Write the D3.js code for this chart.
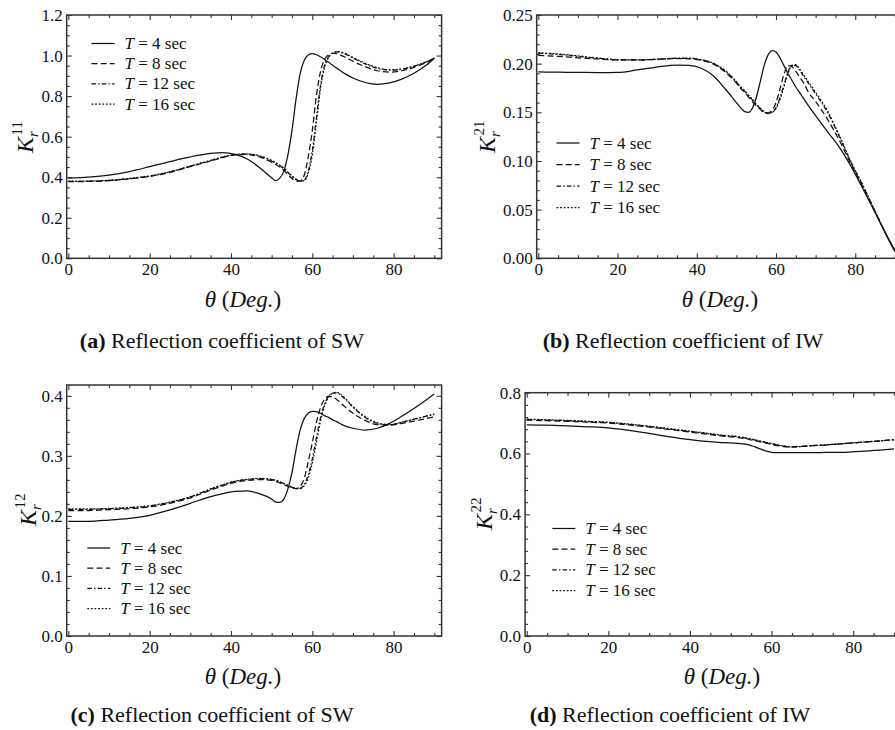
<!DOCTYPE html>
<html><head><meta charset="utf-8">
<script src="https://cdn.jsdelivr.net/npm/d3@7"></script>
<style>
body{margin:0;background:#fff}
svg{display:block;font-family:"Liberation Serif","Times New Roman",serif}
</style></head><body>
<svg id="chart" width="895" height="730"></svg>
<script>
// Incidence angle (degrees) at which each reflection coefficient is sampled
const theta = [0,5,10,15,20,25,30,35,38,41,44,47,50,51,52,53,54,55,56,57,58,59,60,61,62,63,64,65,66,67,68,70,73,76,79,82,85,88,90];

// Wave periods (sec) and their legend labels
const periods = [4, 8, 12, 16];

// K_r^11 : surface wave reflected as surface wave
const a_T4  = [.395,.400,.410,.428,.452,.477,.500,.517,.521,.513,.490,.448,.397,.383,.395,.430,.510,.630,.785,.910,.975,1.003,1.009,1.004,.994,.981,.967,.952,.938,.924,.911,.889,.867,.858,.865,.884,.913,.952,.987];
const a_T8  = [.378,.379,.383,.392,.404,.424,.452,.480,.497,.510,.512,.500,.474,.463,.450,.434,.414,.394,.381,.381,.410,.500,.630,.800,.920,.980,1.003,1.012,1.010,1.002,.993,.972,.945,.925,.918,.925,.942,.965,.985];
const a_T12 = [.379,.380,.384,.393,.405,.426,.454,.482,.499,.511,.514,.504,.480,.469,.456,.441,.423,.404,.389,.380,.385,.430,.530,.690,.850,.950,.993,1.012,1.018,1.015,1.008,.988,.959,.937,.928,.932,.947,.968,.987];
const a_T16 = [.380,.381,.385,.394,.406,.427,.455,.483,.500,.512,.515,.506,.483,.472,.459,.444,.426,.407,.391,.381,.383,.420,.510,.670,.835,.940,.990,1.011,1.020,1.018,1.011,.991,.962,.940,.930,.934,.948,.969,.988];

// K_r^21 : surface wave reflected as internal wave
const b_T4  = [.1915,.1912,.1910,.1908,.1910,.1935,.1965,.1985,.1982,.1955,.1880,.1750,.1600,.1550,.1510,.1500,.1540,.1650,.1810,.1980,.2090,.2135,.2120,.2060,.1980,.1900,.1830,.1760,.1700,.1640,.1580,.1465,.1300,.1140,.0940,.0710,.0470,.0225,.0070];
const b_T8  = [.2085,.2075,.2060,.2048,.2038,.2038,.2045,.2052,.2050,.2035,.2000,.1920,.1800,.1750,.1710,.1660,.1610,.1570,.1530,.1500,.1495,.1520,.1600,.1740,.1890,.1980,.1970,.1920,.1860,.1800,.1720,.1610,.1430,.1210,.0960,.0730,.0480,.0230,.0080];
const b_T12 = [.2108,.2095,.2075,.2055,.2040,.2038,.2045,.2055,.2055,.2040,.2005,.1930,.1810,.1760,.1720,.1675,.1630,.1580,.1540,.1505,.1487,.1500,.1550,.1650,.1780,.1910,.1985,.1980,.1930,.1870,.1810,.1690,.1500,.1250,.0980,.0740,.0480,.0230,.0080];
const b_T16 = [.2112,.2100,.2080,.2058,.2042,.2039,.2046,.2056,.2056,.2042,.2008,.1935,.1815,.1765,.1725,.1680,.1635,.1585,.1545,.1510,.1490,.1498,.1540,.1630,.1760,.1895,.1980,.1990,.1945,.1885,.1825,.1705,.1515,.1260,.0985,.0745,.0485,.0232,.0082];

// K_r^12 : internal wave reflected as surface wave
const c_T4  = [.191,.191,.193,.196,.201,.210,.221,.232,.237,.241,.2415,.237,.228,.2235,.2225,.228,.245,.272,.310,.343,.362,.371,.374,.3735,.371,.367,.364,.360,.357,.353,.350,.346,.343,.346,.354,.366,.379,.393,.403];
const c_T8  = [.209,.209,.2105,.212,.215,.221,.230,.243,.250,.256,.259,.2605,.259,.2575,.255,.252,.249,.2465,.2455,.249,.262,.290,.322,.355,.380,.394,.399,.398,.394,.388,.382,.371,.359,.352,.351,.354,.358,.362,.365];
const c_T12 = [.211,.211,.212,.2135,.2165,.2225,.2315,.2445,.2515,.2575,.2605,.262,.2605,.259,.2565,.2535,.2505,.2475,.2455,.246,.252,.268,.295,.330,.363,.386,.399,.4045,.405,.401,.395,.381,.364,.354,.352,.356,.361,.366,.369];
const c_T16 = [.2115,.2115,.2125,.214,.217,.223,.232,.245,.252,.258,.261,.2625,.261,.2595,.257,.254,.251,.248,.246,.2455,.250,.263,.288,.322,.357,.383,.398,.4045,.406,.4025,.3965,.382,.365,.355,.352,.356,.361,.366,.370];

// K_r^22 : internal wave reflected as internal wave
const d_T4  = [.694,.693,.691,.688,.684,.676,.666,.655,.649,.644,.640,.637,.635,.634,.633,.632,.630,.626,.622,.616,.611,.607,.604,.603,.603,.603,.603,.603,.603,.603,.603,.603,.6035,.604,.605,.607,.610,.613,.615];
const d_T8  = [.710,.708,.706,.703,.700,.694,.687,.679,.674,.669,.664,.659,.655,.654,.652,.650,.648,.645,.642,.639,.636,.633,.630,.627,.625,.623,.622,.622,.623,.6235,.624,.626,.628,.631,.634,.637,.640,.643,.645];
const d_T12 = [.712,.710,.708,.705,.702,.696,.689,.681,.676,.671,.666,.661,.657,.656,.654,.652,.650,.647,.644,.641,.638,.635,.632,.629,.626,.624,.622,.621,.622,.623,.6235,.6255,.628,.631,.634,.637,.640,.643,.646];
const d_T16 = [.713,.711,.709,.706,.703,.697,.690,.682,.677,.672,.667,.662,.658,.657,.655,.653,.651,.648,.645,.642,.639,.636,.633,.630,.627,.625,.623,.622,.622,.623,.624,.626,.628,.631,.634,.637,.640,.643,.646];

// Axis ticks
const xTicks  = [0, 20, 40, 60, 80];
const yTicksA = [0, 0.2, 0.4, 0.6, 0.8, 1.0, 1.2];
const yTicksB = [0, 0.05, 0.10, 0.15, 0.20, 0.25];
const yTicksC = [0, 0.1, 0.2, 0.3, 0.4];
const yTicksD = [0, 0.2, 0.4, 0.6, 0.8];

// Line style for each period: solid, dashed, dot-dashed, dotted
const dashes = [null, "6,3.2", "4.5,2.2,1.4,2.2", "1.8,1.8"];

const panels = [
  {tag:"a", sup:"11", series:[a_T4,a_T8,a_T12,a_T16], yDom:[0,1.2],   yTicks:yTicksA, yMinor:0.05, fmt:".1f",
   cap:"Reflection coefficient of SW", xr:[66.7,441.6], yr:[258.3,15],
   leg:[91.5,43.5,20.2], ylab:[33,137], xlab:[243,307], capPos:[222,348]},
  {tag:"b", sup:"21", series:[b_T4,b_T8,b_T12,b_T16], yDom:[0,0.25],  yTicks:yTicksB, yMinor:0.01, fmt:".2f",
   cap:"Reflection coefficient of IW", xr:[536.7,902], yr:[258.3,15],
   leg:[556.5,143,21.5], ylab:[495,137], xlab:[720,307], capPos:[683,348]},
  {tag:"c", sup:"12", series:[c_T4,c_T8,c_T12,c_T16], yDom:[0,0.418], yTicks:yTicksC, yMinor:0.02, fmt:".1f",
   cap:"Reflection coefficient of SW", xr:[66.7,441.6], yr:[636,385],
   leg:[87.3,548,20.2], ylab:[36,510], xlab:[243,684], capPos:[212,722]},
  {tag:"d", sup:"22", series:[d_T4,d_T8,d_T12,d_T16], yDom:[0,0.8],   yTicks:yTicksD, yMinor:0.04, fmt:".1f",
   cap:"Reflection coefficient of IW", xr:[525.1,901.3], yr:[636,392.7],
   leg:[552.3,528.5,20.7], ylab:[492,514], xlab:[722,684], capPos:[670,722]}
];

const svg = d3.select("#chart");
const ink = "#111";
const frameInk = "#333";

panels.forEach(p => {
  const x = d3.scaleLinear().domain([-0.4, 91.8]).range(p.xr);
  const y = d3.scaleLinear().domain(p.yDom).range(p.yr);
  const g = svg.append("g");
  const [x0, x1] = p.xr, [yb, yt] = p.yr;

  const xMinor = d3.range(0, 91, 5).filter(v => v % 20 !== 0);
  const yMinorVals = d3.range(0, p.yDom[1] + 1e-9, p.yMinor)
    .filter(v => !p.yTicks.some(t => Math.abs(t - v) < 1e-6));

  const styleAxis = sel => {
    sel.select(".domain").remove();
    sel.selectAll(".tick line").attr("stroke", frameInk).attr("stroke-width", 1.1);
    sel.selectAll(".tick text").attr("fill", ink)
      .style("font-family", '"Liberation Serif", serif').style("font-size", "17px");
  };

  // bottom axis (labelled) and top axis, ticks pointing inward
  g.append("g").attr("transform", `translate(0,${yb})`)
    .call(d3.axisBottom(x).tickValues(xTicks).tickSize(-5).tickPadding(5).tickFormat(d3.format("d")))
    .call(styleAxis);
  g.append("g").attr("transform", `translate(0,${yb})`)
    .call(d3.axisBottom(x).tickValues(xMinor).tickSize(-3).tickFormat(""))
    .call(styleAxis);
  g.append("g").attr("transform", `translate(0,${yt})`)
    .call(d3.axisTop(x).tickValues(xTicks).tickSize(-5).tickFormat(""))
    .call(styleAxis);
  g.append("g").attr("transform", `translate(0,${yt})`)
    .call(d3.axisTop(x).tickValues(xMinor).tickSize(-3).tickFormat(""))
    .call(styleAxis);

  // left axis (labelled) and right axis
  g.append("g").attr("transform", `translate(${x0},0)`)
    .call(d3.axisLeft(y).tickValues(p.yTicks).tickSize(-5).tickPadding(4).tickFormat(d3.format(p.fmt)))
    .call(styleAxis);
  g.append("g").attr("transform", `translate(${x0},0)`)
    .call(d3.axisLeft(y).tickValues(yMinorVals).tickSize(-3).tickFormat(""))
    .call(styleAxis);
  g.append("g").attr("transform", `translate(${x1},0)`)
    .call(d3.axisRight(y).tickValues(p.yTicks).tickSize(-5).tickFormat(""))
    .call(styleAxis);
  g.append("g").attr("transform", `translate(${x1},0)`)
    .call(d3.axisRight(y).tickValues(yMinorVals).tickSize(-3).tickFormat(""))
    .call(styleAxis);

  // frame
  g.append("rect").attr("x", x0).attr("y", yt).attr("width", x1 - x0).attr("height", yb - yt)
    .attr("fill", "none").attr("stroke", frameInk).attr("stroke-width", 1.5);

  // curves
  const line = d3.line().x((d, i) => x(theta[i])).y(d => y(d)).curve(d3.curveMonotoneX);
  p.series.forEach((s, k) => {
    g.append("path").datum(s).attr("d", line)
      .attr("fill", "none").attr("stroke", ink).attr("stroke-width", 1.25)
      .attr("stroke-dasharray", dashes[k]);
  });

  // legend
  const [lx, ly, ldy] = p.leg;
  periods.forEach((T, k) => {
    const yy = ly + k * ldy;
    g.append("line").attr("x1", lx).attr("x2", lx + 23).attr("y1", yy).attr("y2", yy)
      .attr("stroke", ink).attr("stroke-width", 1.25).attr("stroke-dasharray", dashes[k]);
    const t = g.append("text").attr("x", lx + 33).attr("y", yy + 5.5)
      .attr("fill", ink).style("font-size", "17px");
    t.append("tspan").attr("font-style", "italic").text("T");
    t.append("tspan").text(` = ${T} sec`);
  });

  // y-axis title K_r^{ij}
  const yl = g.append("g").attr("transform", `translate(${p.ylab[0]},${p.ylab[1]}) rotate(-90)`);
  yl.append("text").attr("x", -16).attr("y", 0).attr("fill", ink)
    .style("font-size", "24px").style("font-style", "italic").text("K");
  yl.append("text").attr("x", 0).attr("y", 5).attr("fill", ink)
    .style("font-size", "15px").style("font-style", "italic").text("r");
  yl.append("text").attr("x", 1.5).attr("y", -11).attr("fill", ink)
    .style("font-size", "15px").text(p.sup);

  // x-axis title
  const xt = g.append("text").attr("x", p.xlab[0]).attr("y", p.xlab[1])
    .attr("text-anchor", "middle").attr("fill", ink).style("font-size", "23px");
  xt.append("tspan").attr("font-style", "italic").text("θ");
  xt.append("tspan").text(" (");
  xt.append("tspan").attr("font-style", "italic").text("Deg.");
  xt.append("tspan").text(")");

  // caption
  const ct = g.append("text").attr("x", p.capPos[0]).attr("y", p.capPos[1])
    .attr("text-anchor", "middle").attr("fill", ink).style("font-size", "22px");
  ct.append("tspan").attr("font-weight", "bold").text(`(${p.tag})`);
  ct.append("tspan").text(" " + p.cap);
});
</script>
</body></html>
